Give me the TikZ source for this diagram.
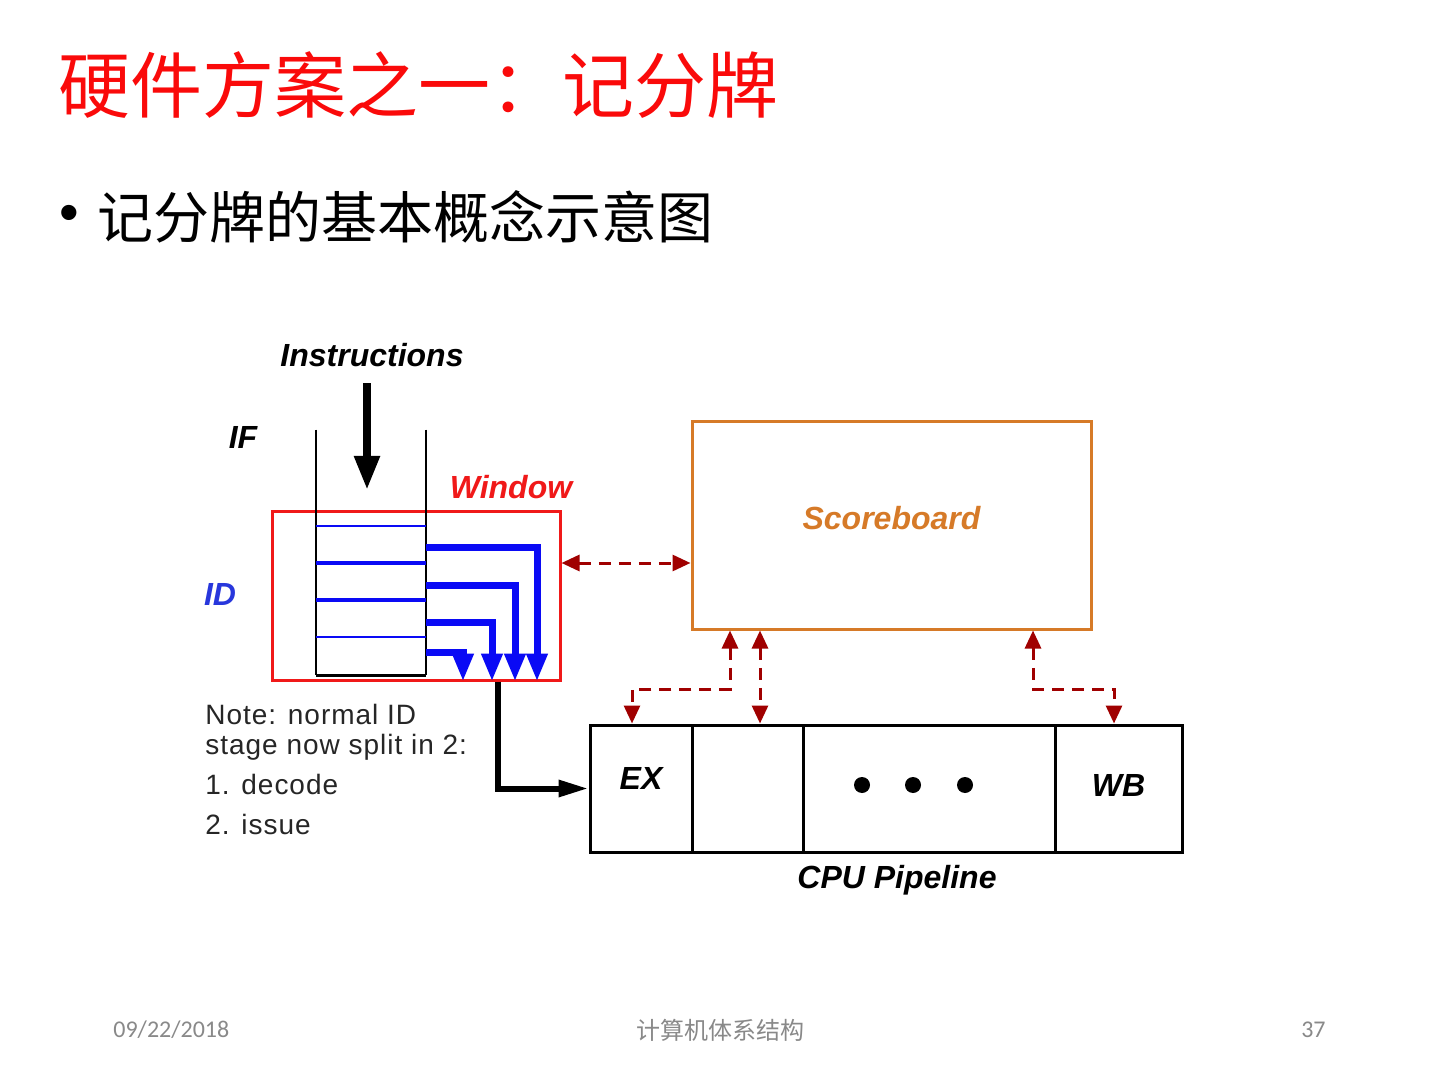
\documentclass[tikz,border=0pt]{standalone}
\usepackage{fontspec}
\setmainfont{Liberation Sans}
\newfontfamily\cjk{Noto Sans CJK SC}
\newfontfamily\footfont{Carlito}
\newfontfamily\notefont[LetterSpace=3.5]{Liberation Sans}
\usetikzlibrary{arrows.meta}
\definecolor{ttlred}{RGB}{250,10,10}
\definecolor{winred}{RGB}{240,25,25}
\definecolor{sbor}{RGB}{214,122,40}
\definecolor{dkred}{RGB}{160,0,0}
\definecolor{qblue}{RGB}{10,10,245}
\definecolor{idblue}{RGB}{40,55,220}
\definecolor{footgray}{RGB}{137,137,137}

\begin{document}
\begin{tikzpicture}[x=0.5pt, y=-0.5pt,
    ttl/.style={font=\cjk\fontsize{36pt}{40pt}\selectfont, text=ttlred,
              anchor=west, inner sep=0pt},
    sub/.style={font=\cjk\fontsize{28pt}{32pt}\selectfont, inner sep=0pt},
    lab/.style={font=\fontsize{16pt}{18pt}\selectfont\bfseries\itshape,
              inner sep=1pt},
    note/.style={font=\notefont\fontsize{14pt}{15pt}\selectfont, align=left,
              inner sep=0pt, text=black!85},
    foot/.style={font=\footfont\fontsize{12pt}{14pt}\selectfont,
              text=footgray, inner sep=0pt},
    box/.style={rectangle, line width=1.5pt, inner sep=0pt},
    stage/.style={rectangle, draw=black, line width=1.5pt, inner sep=0pt,
              minimum height=63.5pt, font=\fontsize{16pt}{18pt}\selectfont\bfseries\itshape},
    pdot/.style={circle, fill=black, minimum size=8pt, inner sep=0pt},
    barr/.style={-{Triangle[length=14pt, width=10pt]}, draw=qblue,
              line width=3.5pt},
    karr/.style={-{Triangle[length=15pt, width=8pt]}, draw=black,
              line width=3pt},
    dlink/.style={{Triangle[length=9pt, width=8pt]}-{Triangle[length=9pt, width=8pt]},
              draw=dkred, line width=1.5pt, dash pattern=on 6pt off 4pt}]
  \path[fill=white] (0,0) rectangle (1440,1080);

  % ---------- slide text -----------------------------------------------------
  \node[ttl] (title) at (58,85) {硬件方案之一：记分牌};
  \node[sub, font=\fontsize{28pt}{32pt}\selectfont] (bul) at (69,218) {•};
  \node[sub, anchor=west] (subt) at (97,217) {记分牌的基本概念示意图};

  % ---------- fetch / issue window -------------------------------------------
  \node[lab] (ins) at (372,355) {Instructions};
  \node[lab] (if) at (243,437) {IF};
  \node[lab, text=idblue] (id) at (220,594) {ID};
  \node[lab, text=winred] (wtxt) at (511,487) {Window};

  \node[box, draw=winred, minimum width=144pt, minimum height=84.5pt] (win)
    at (416,595.5) {};
  \node[inner sep=0pt, minimum width=55pt, minimum height=122.5pt] (stk)
    at (371,552.5) {};
  \draw[line width=1pt] (stk.north west) -- (stk.south west);
  \draw[line width=1pt] (stk.north east) -- (stk.south east);
  \draw[line width=1.5pt] (stk.south west) -- (stk.south east);
  \foreach \y/\w in {526/1pt, 563/1.6pt, 600/1.6pt, 637/1pt}
    { \draw[qblue, line width=\w] (stk.west |- 0,\y) -- (stk.east |- 0,\y); }
  \foreach \y/\x in {547/537, 585/515, 622/492, 652/463}
    { \draw[barr] (stk.east |- 0,\y) -| (\x,0 |- win.south); }

  \coordinate (intip) at (367,490);
  \draw[karr, line width=4pt, -{Triangle[length=17pt, width=12pt]}, shorten <=7pt]
    (ins.south -| intip) -- (intip);

  \node[note, anchor=north west] (note) at (205,704)
    {Note: normal ID\\stage now split in 2:\\[5pt]1. decode\\[5pt]2. issue};

  % ---------- scoreboard and pipeline ----------------------------------------
  \node[box, draw=sbor, text=sbor, font=\fontsize{16pt}{18pt}\selectfont\bfseries\itshape,
        text depth=8pt, minimum width=199.5pt, minimum height=103.5pt] (sb)
    at (891.5,525.5) {Scoreboard};

  \foreach \n/\cx/\w/\t/\d in {ex/641/51pt/EX/10pt, st2/747.5/55.5pt//0pt,
                               dts/929/126pt//0pt, wb/1118.5/63.5pt/WB/3pt}
    { \node[stage, minimum width=\w, text depth=\d] (\n) at (\cx,788.5) {\t}; }
  \foreach \i/\x in {1/862, 2/913, 3/965} { \node[pdot] (p\i) at (\x,785) {}; }
  \node[lab] (cpu) at (897,880) {CPU Pipeline};

  \draw[karr] (win.south -| 498,0) |- (ex.west);

  % ---------- scoreboard links -----------------------------------------------
  \coordinate (lvl) at (0,563);
  \draw[dlink] (win.east |- lvl) -- (sb.west |- lvl);
  \coordinate (k1) at (730,689);  \coordinate (t1) at (632,689);
  \draw[dlink] (sb.south -| k1) -- (k1) -- (t1) -- (t1 |- ex.north);
  \coordinate (k2) at (760,689);
  \draw[dlink] (sb.south -| k2) -- (k2 |- st2.north);
  \coordinate (k3) at (1033,689); \coordinate (t3) at (1114,689);
  \draw[dlink] (sb.south -| k3) -- (k3) -- (t3) -- (t3 |- wb.north);

  % ---------- footer ---------------------------------------------------------
  \node[foot, anchor=west] (date) at (113,1030) {09/22/2018};
  \node[foot, font=\cjk\fontsize{12pt}{14pt}\selectfont] (course) at (720,1030) {计算机体系结构};
  \node[foot, anchor=east] (pg) at (1326,1030) {37};
\end{tikzpicture}
\end{document}
